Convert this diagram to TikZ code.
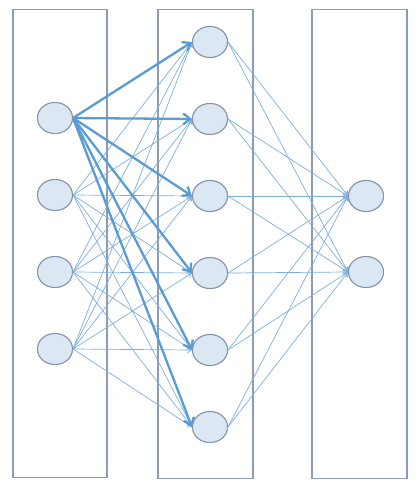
\documentclass[tikz,border=0pt]{standalone}
\usetikzlibrary{shapes.geometric,arrows.meta}
\definecolor{nodefill}{HTML}{DCE7F4}
\definecolor{nodeline}{HTML}{8495AB}
\definecolor{edgeblue}{HTML}{5B9BD5}
\definecolor{boxline}{HTML}{8C9DB3}
\tikzset{
  neuron/.style={ellipse,draw=nodeline,fill=nodefill,line width=1pt,minimum width=35pt,minimum height=31pt,inner sep=0pt},
  layerbox/.style={draw=boxline,line width=1.2pt},
  thinedge/.style={draw=edgeblue!80,line width=0.7pt,-{Straight Barb[length=4pt,width=6pt]}},
  thickedge/.style={draw=edgeblue,line width=2.3pt,-{Straight Barb[length=7pt,width=11pt]}}
}
\begin{document}
\begin{tikzpicture}[x=1pt,y=-1pt]
\useasboundingbox (0,0) rectangle (419,490);
\node[layerbox,minimum width=94pt,minimum height=468pt,inner sep=0pt] (b1) at (60,243.5) {};
\node[layerbox,minimum width=95pt,minimum height=469pt,inner sep=0pt] (b2) at (205.5,244) {};
\node[layerbox,minimum width=95pt,minimum height=469pt,inner sep=0pt] (b3) at (359.5,244) {};
% input layer
\foreach \i/\y in {1/118,2/195,3/272,4/349} {
  \node[neuron] (a\i) at (55,\y) {};
}
% hidden layer
\foreach \j/\y in {1/42,2/119,3/196,4/273,5/350,6/427} {
  \node[neuron] (h\j) at (210,\y) {};
}
% output layer
\foreach \k/\y in {1/196,2/272} {
  \node[neuron] (o\k) at (366,\y) {};
}
% thin connections
\foreach \i in {2,3,4} {
  \foreach \j in {1,...,6} {
    \draw[thinedge] (a\i.east) -- (h\j.west);
  }
}
\foreach \j in {1,...,6} {
  \foreach \k in {1,2} {
    \draw[thinedge] (h\j.east) -- (o\k.west);
  }
}
% thick connections from first input
\foreach \j in {1,...,6} {
  \draw[thickedge] (a1.east) -- (h\j.west);
}
% redraw nodes on top
\foreach \i/\y in {1/118,2/195,3/272,4/349} {
  \node[neuron] at (55,\y) {};
}
\foreach \j/\y in {1/42,2/119,3/196,4/273,5/350,6/427} {
  \node[neuron] at (210,\y) {};
}
\foreach \k/\y in {1/196,2/272} {
  \node[neuron] at (366,\y) {};
}
\end{tikzpicture}
\end{document}
